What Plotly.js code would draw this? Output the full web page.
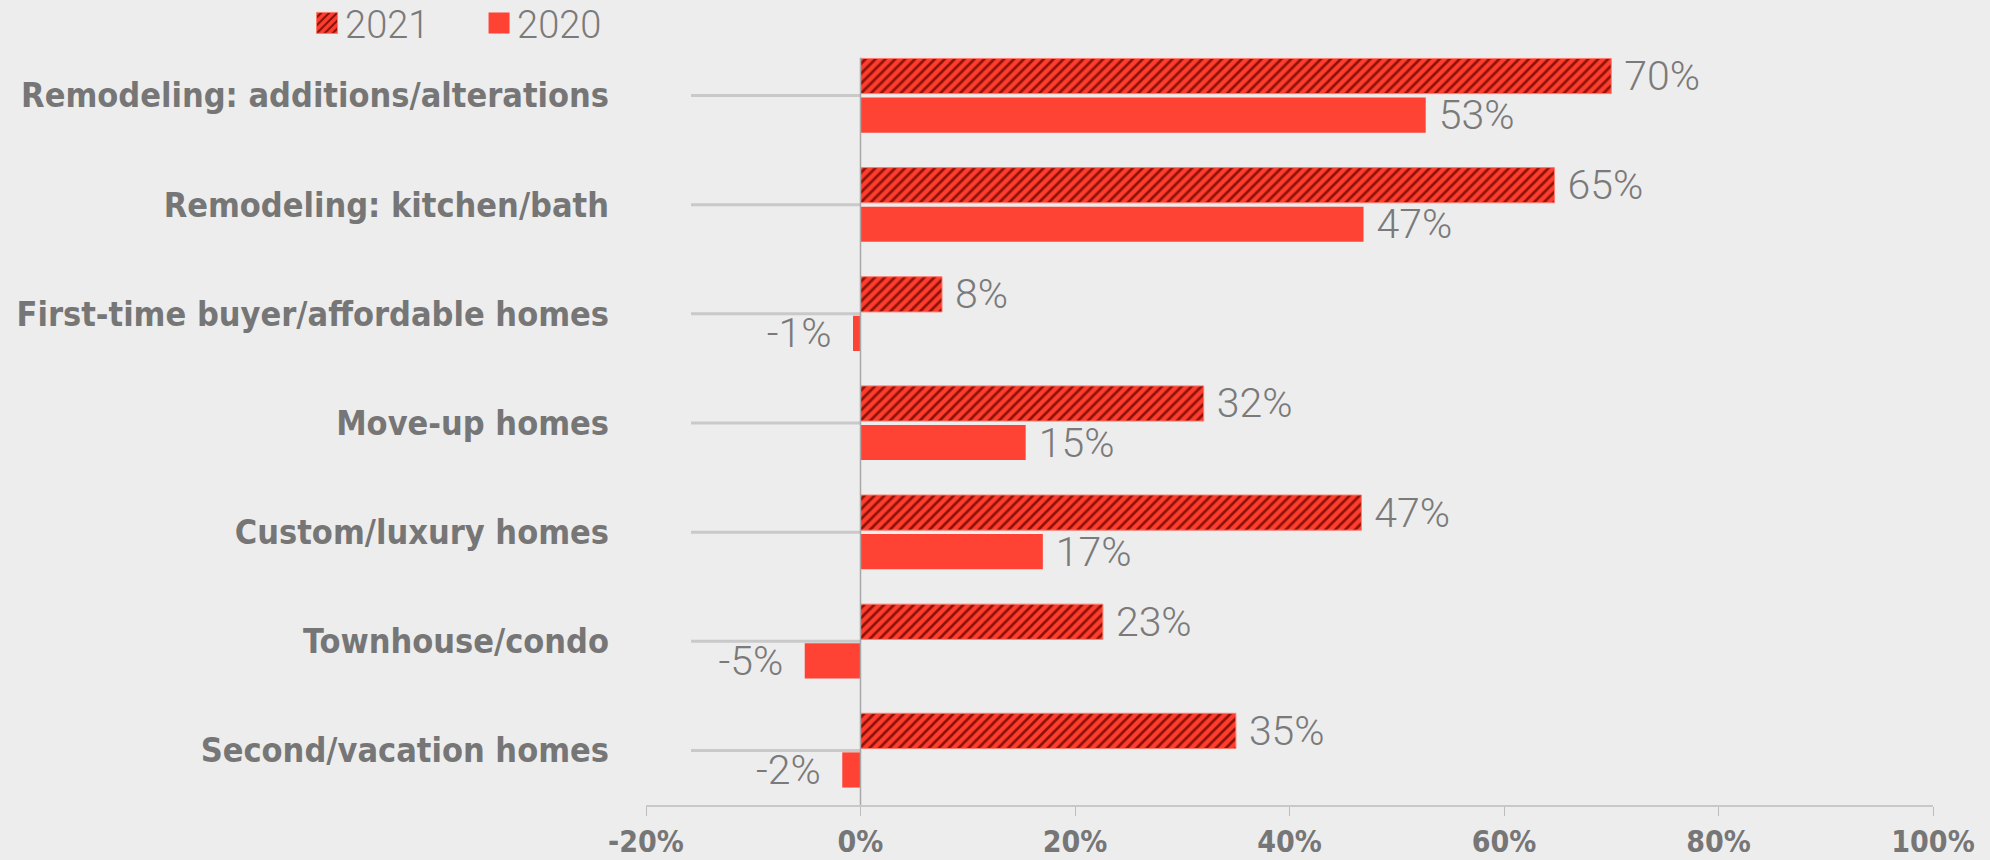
<!DOCTYPE html>
<html>
<head>
<meta charset="utf-8">
<script src="https://cdn.plot.ly/plotly-3.0.1.min.js"></script>
<style>
  html, body { margin: 0; padding: 0; background: #ededed; }
  #chart { width: 1990px; height: 860px; }
</style>
</head>
<body>
<div id="chart"></div>
<script>
const categories = [
  "Remodeling: additions/alterations",
  "Remodeling: kitchen/bath",
  "First-time buyer/affordable homes",
  "Move-up homes",
  "Custom/luxury homes",
  "Townhouse/condo",
  "Second/vacation homes"
];
const values2021 = [70, 64.7, 7.6, 32, 46.7, 22.6, 35];
const values2020 = [52.7, 46.9, -0.7, 15.4, 17, -5.2, -1.7];
const xTickVals = [-20, 0, 20, 40, 60, 80, 100];
const xTickText = ["-20%", "0%", "20%", "40%", "60%", "80%", "100%"];

const NB = "\u00a0";
function labels(vals) {
  return vals.map(v => {
    const s = Math.round(v) + "%";
    return v >= 0 ? NB + s : s + NB + "\u2009";
  });
}

const red = "#fe4334";
const darkRed = "#8c1208";
const grey = "#767676";
const labelFont = { family: "Roboto, Lato, sans-serif", size: 41, color: "#7a7a7a", weight: 300 };
const boldCond = "'Liberation Sans Narrow', 'DejaVu Sans Condensed', 'Arial Narrow', sans-serif";

const traces = [
  {
    type: "bar", orientation: "h", name: "2021",
    y: categories, x: values2021,
    text: labels(values2021), textposition: "outside", cliponaxis: false,
    constraintext: "none",
    textfont: labelFont,
    marker: {
      color: red,
      line: { color: "#ff7a6e", width: 1 },
      pattern: { shape: "/", bgcolor: "#ff3d2e", fgcolor: darkRed, size: 7, solidity: 0.38, fillmode: "replace" }
    },
    hoverinfo: "skip"
  },
  {
    type: "bar", orientation: "h", name: "2020",
    y: categories, x: values2020,
    text: labels(values2020), textposition: "outside", cliponaxis: false,
    constraintext: "none",
    textfont: labelFont,
    marker: { color: red },
    hoverinfo: "skip"
  }
];

const shapes = categories.map(c => ({
  type: "line", xref: "x", yref: "y",
  x0: -15.8, x1: 0, y0: c, y1: c,
  line: { color: "#c9c9c9", width: 3 },
  layer: "below"
}));
shapes.push({
  type: "line", xref: "x", yref: "paper",
  x0: 0, x1: 0, y0: 0, y1: 0.978,
  line: { color: "#a8a8a8", width: 1.5 },
  layer: "above"
});

const layout = {
  width: 1990, height: 860,
  paper_bgcolor: "#ededed", plot_bgcolor: "rgba(0,0,0,0)",
  margin: { l: 646, r: 57, t: 41, b: 55, autoexpand: false },
  barmode: "group", bargap: 0.284, bargroupgap: 0.1,
  showlegend: true,
  legend: {
    orientation: "h", xref: "container", yref: "container",
    x: 0.1543, xanchor: "left", y: 0.973, yanchor: "middle",
    font: { family: "Roboto, Lato, sans-serif", size: 38, color: "#7a7a7a", weight: 300 },
    bgcolor: "rgba(0,0,0,0)", traceorder: "normal",
    entrywidth: 127, entrywidthmode: "pixels"
  },
  xaxis: {
    range: [-20, 100], tickvals: xTickVals, ticktext: xTickText,
    showgrid: false, zeroline: false,
    showline: true, linecolor: "#c8c8c8", linewidth: 2,
    ticks: "outside", ticklen: 9, tickcolor: "#bdbdbd", tickwidth: 1,
    tickfont: { family: boldCond, size: 30, color: grey, weight: "bold" },
    fixedrange: true
  },
  yaxis: {
    type: "category", autorange: "reversed",
    showgrid: false, zeroline: false, showline: false, ticks: "",
    ticklabelstandoff: 36,
    tickfont: { family: boldCond, size: 34, color: grey, weight: "bold" },
    fixedrange: true
  },
  shapes: shapes
};

Plotly.newPlot("chart", traces, layout, { displayModeBar: false, staticPlot: true }).then(() => {
  document.querySelectorAll(".legend .legendpoints path").forEach(p => {
    p.setAttribute("d", "M10.5,10.5H-10.5V-10.5H10.5Z");
  });
  document.querySelectorAll(".legend text.legendtext").forEach(t => {
    const x = parseFloat(t.getAttribute("x") || "40");
    t.setAttribute("x", x - 2);
  });
});
</script>
</body>
</html>
